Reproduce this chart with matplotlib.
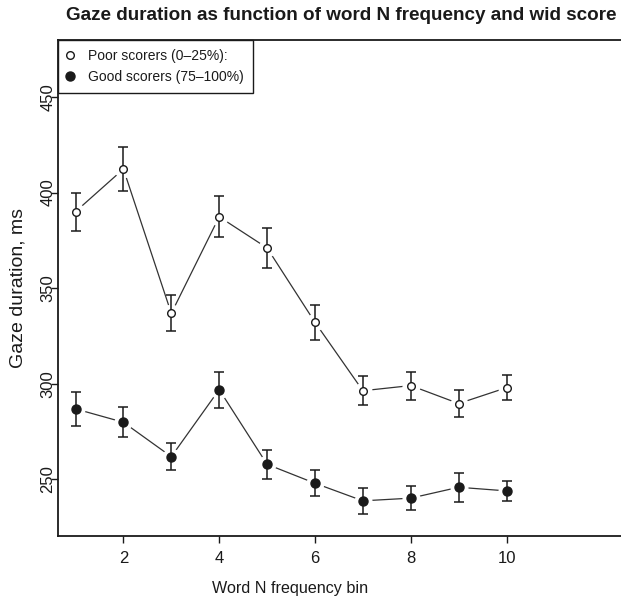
import matplotlib.pyplot as plt
from matplotlib.lines import Line2D

plt.rcParams['font.family'] = ['Liberation Sans', 'DejaVu Sans']

# Data
freq_bin = [1, 2, 3, 4, 5, 6, 7, 8, 9, 10]
poor_mean = [390.0, 412.3, 336.8, 387.3, 371.0, 332.1, 296.3, 299.0, 289.6, 297.9]
poor_err = [10.0, 11.7, 9.4, 10.7, 10.6, 9.2, 7.7, 7.3, 7.2, 6.7]
good_mean = [286.8, 279.8, 261.8, 296.9, 257.8, 247.9, 238.7, 240.1, 245.8, 243.9]
good_err = [8.8, 7.8, 7.0, 9.4, 7.5, 6.7, 6.9, 6.2, 7.7, 5.3]

fig = plt.figure(figsize=(6.21, 5.96), dpi=100)
ax = fig.add_axes([58 / 621, 1 - 536 / 596, 1 - 58 / 621, (536 - 40) / 596])

ink = '#1a1a1a'

for mean, err, face, ms in [(poor_mean, poor_err, 'white', 5.5),
                            (good_mean, good_err, ink, 6.5)]:
    # connecting line, R type="b" style (gaps around the points)
    ax.plot(freq_bin, mean, color='#333333', linewidth=0.9, zorder=1)
    ax.plot(freq_bin, mean, linestyle='none', marker='o', markersize=12,
            markerfacecolor='white', markeredgecolor='white', zorder=2)
    ax.errorbar(freq_bin, mean, yerr=err, fmt='none', ecolor=ink,
                elinewidth=1.1, capsize=3.4, capthick=1.1, zorder=3)
    ax.plot(freq_bin, mean, linestyle='none', marker='o', markersize=ms,
            markerfacecolor=face, markeredgecolor=ink, markeredgewidth=1.0,
            zorder=4)

ax.set_xlim(0.634, 12.39)
ax.set_ylim(220.3, 479.8)

ax.set_xticks([2, 4, 6, 8, 10])
ax.set_yticks([250, 300, 350, 400, 450])
ax.tick_params(direction='out', length=5, width=1.0, color=ink,
               labelsize=12, labelcolor=ink)
ax.tick_params(axis='x', pad=5.8)
ax.tick_params(axis='y', pad=-3)
for lab in ax.get_yticklabels():
    lab.set_rotation(90)
    lab.set_va('center')

for side in ['left', 'top', 'bottom']:
    ax.spines[side].set_linewidth(1.3)
    ax.spines[side].set_color(ink)
ax.spines['right'].set_visible(False)

fig.text(290 / 621, 1 - 588 / 596, 'Word N frequency bin', ha='center',
         va='center', fontsize=11.6, color=ink)
fig.text(18 / 621, 1 - 288 / 596, 'Gaze duration, ms', ha='center',
         va='center', rotation=90, fontsize=14, color=ink)
fig.text(341 / 621, 1 - 15 / 596,
         'Gaze duration as function of word N frequency and wid score',
         ha='center', va='center', fontsize=13.6, fontweight='bold', color=ink)

handles = [
    Line2D([], [], linestyle='none', marker='o', markersize=5.5,
           markerfacecolor='white', markeredgecolor=ink),
    Line2D([], [], linestyle='none', marker='o', markersize=6.5,
           markerfacecolor=ink, markeredgecolor=ink),
]
leg = ax.legend(handles, ['Poor scorers (0\u201325%):', 'Good scorers (75\u2013100%)'],
                loc='upper left', borderaxespad=0, fancybox=False,
                edgecolor=ink, framealpha=1, fontsize=10,
                handlelength=0.43, handletextpad=1.08, borderpad=0.65,
                labelspacing=0.5)
leg.get_frame().set_linewidth(1.0)
for t in leg.get_texts():
    t.set_color(ink)

plt.savefig('out.png', dpi=100)
